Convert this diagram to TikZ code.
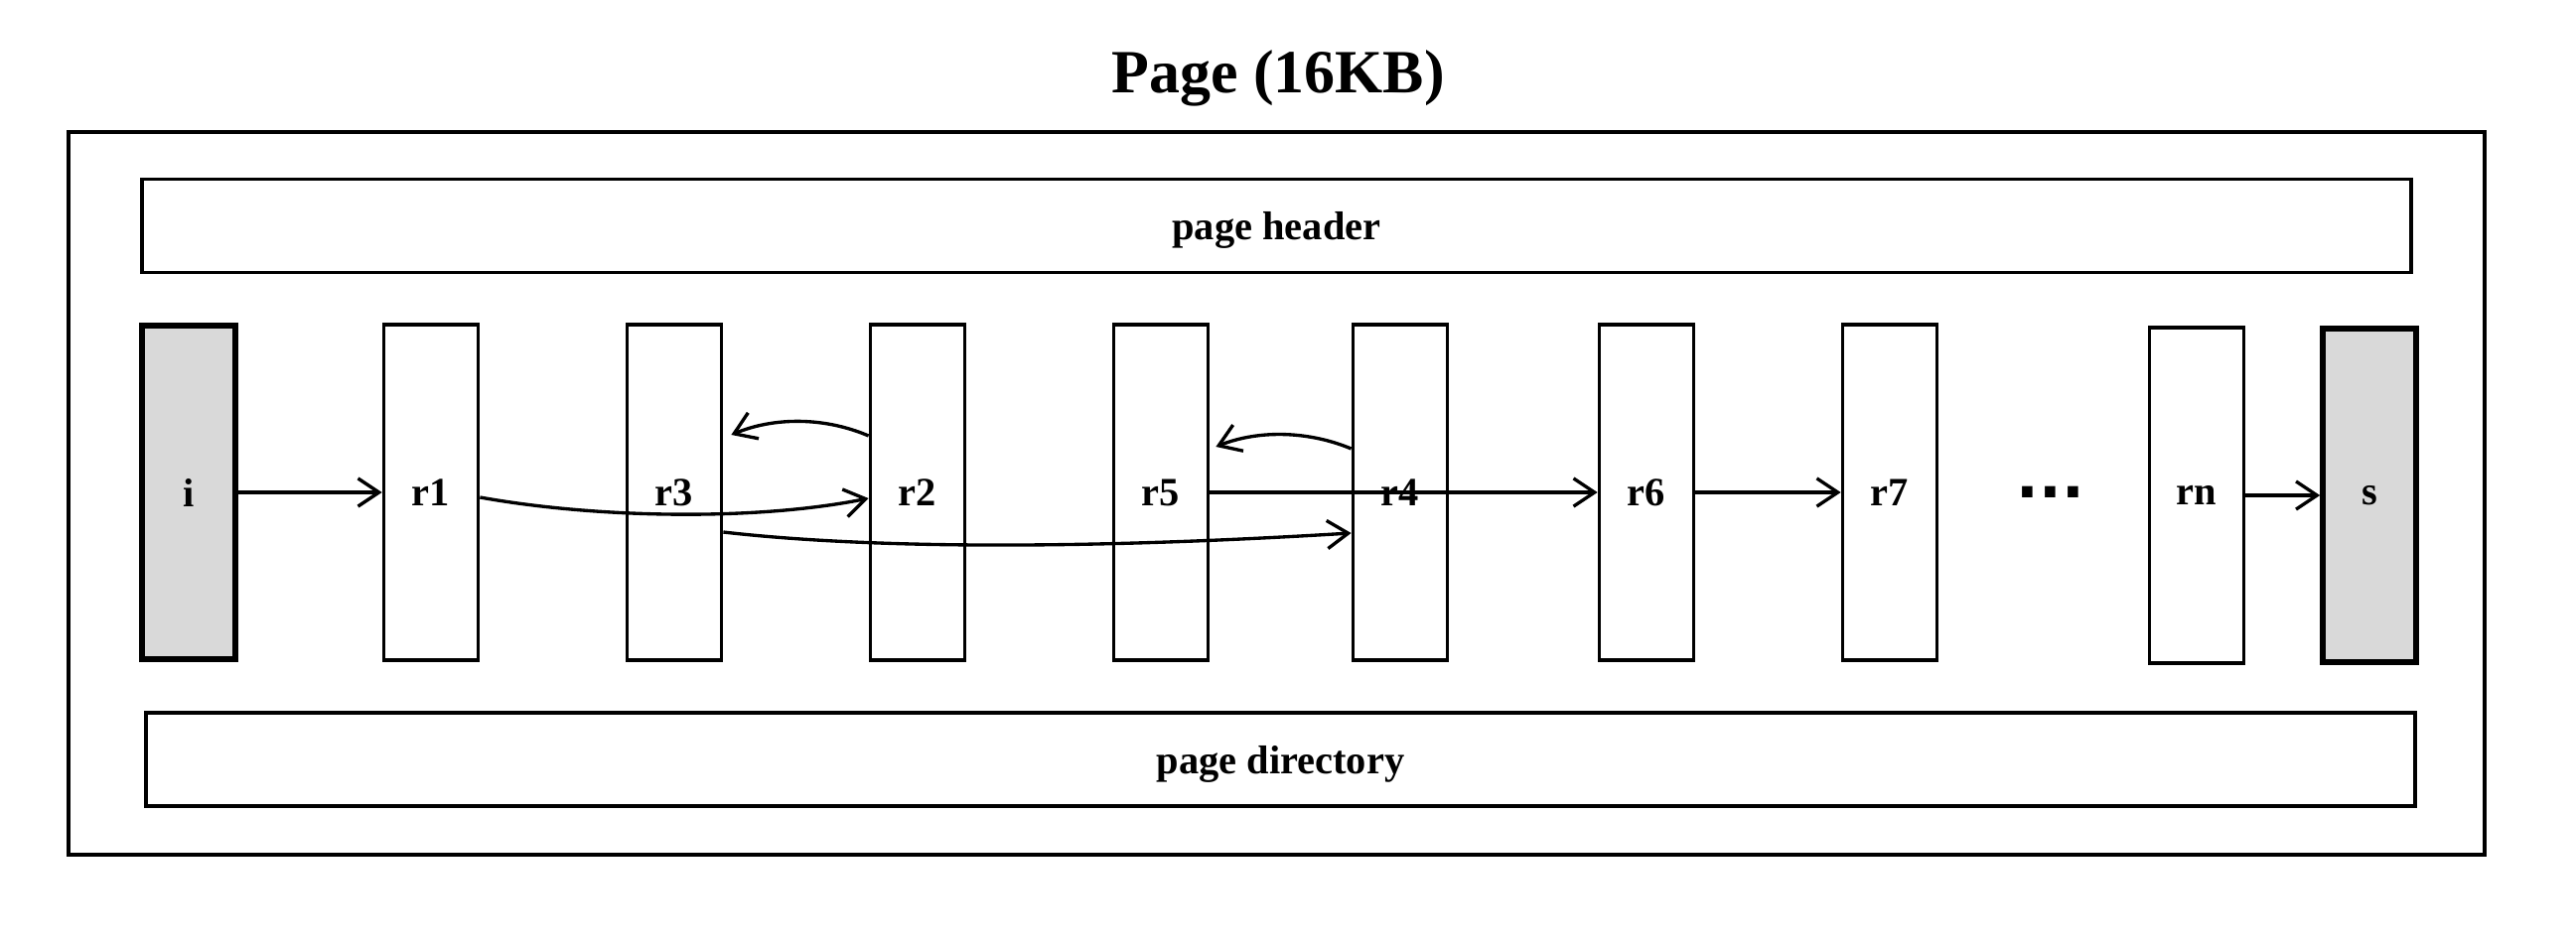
\documentclass[tikz,border=0pt]{standalone}
\usepackage{fontspec}
\setmainfont{Liberation Serif}
\newfontfamily\dotfont{DejaVu Sans}
\usetikzlibrary{arrows.meta,calc}
\definecolor{endgray}{HTML}{D9D9D9}
\begin{document}
\begin{tikzpicture}[x=0.01cm,y=-0.01cm,
  lbl/.style={font=\fontsize{11.5}{13}\selectfont\bfseries},
  rec/.style={lbl, draw=black, line width=1.05pt, fill=white, minimum width=0.95cm, minimum height=3.38cm, inner sep=0pt},
  endrec/.style={rec, fill=endgray, line width=1.6pt, minimum width=0.94cm, minimum height=3.36cm},
  bar/.style={lbl, draw=black, line width=1.05pt, minimum width=22.84cm, minimum height=0.94cm, inner sep=0pt, text depth=0pt},
  link/.style={line width=0.95pt, -{Straight Barb[length=6pt,width=8pt]}}]
\fill[white] (0,0) rectangle (2594,958);
\useasboundingbox (0,0) rectangle (2594,958);
% title and frame
\node[font=\fontsize{17.6}{20}\selectfont\bfseries] (title) at (1287,79) {Page (16KB)};
\node[draw=black, line width=1.05pt, minimum width=24.32cm, minimum height=7.27cm, inner sep=0pt] (frame) at (1285.5,497) {};
\node[bar] (header) at (1285.5,227.5) {page header};
\node[bar] (dir) at (1289.5,765) {page directory};
% records
\node[endrec] (i) at (190,496) {i};
\node[rec] (r1) at (434,496) {r1};
\node[rec] (r3) at (679,496) {r3};
\node[rec] (r2) at (924,496) {r2};
\node[rec] (r5) at (1169,496) {r5};
\node[rec] (r4) at (1410,496) {r4};
\node[rec] (r6) at (1658,496) {r6};
\node[rec] (r7) at (1903,496) {r7};
\node[font=\dotfont\fontsize{17}{19}\selectfont\bfseries, inner sep=0pt] (dots) at (2065,496) {...};
\node[rec] (rn) at (2212,499) {rn};
\node[endrec] (s) at (2386,499) {s};
% links
\draw[link] (i.east) -- (r1.west);
\draw[link] ($(r1.east)+(0,5)$) .. controls (600,522) and (760,525) .. ($(r2.west)+(0,6)$);
\draw[link] ($(r2.west)+(0,-57)$) .. controls (830,420) and (780,420) .. ($(r3.east)+(8,-58)$);
\draw[link] ($(r3.east)+(0,40)$) .. controls (850,550) and (1050,556) .. ($(r4.west)+(0,41)$);
\draw[link] ($(r4.west)+(0,-44)$) .. controls (1320,435) and (1270,432) .. ($(r5.east)+(6,-46)$);
\draw[link] (r5.east) -- (r6.west);
\draw[link] (r6.east) -- (r7.west);
\draw[link] (rn.east) -- (s.west);
\end{tikzpicture}
\end{document}
